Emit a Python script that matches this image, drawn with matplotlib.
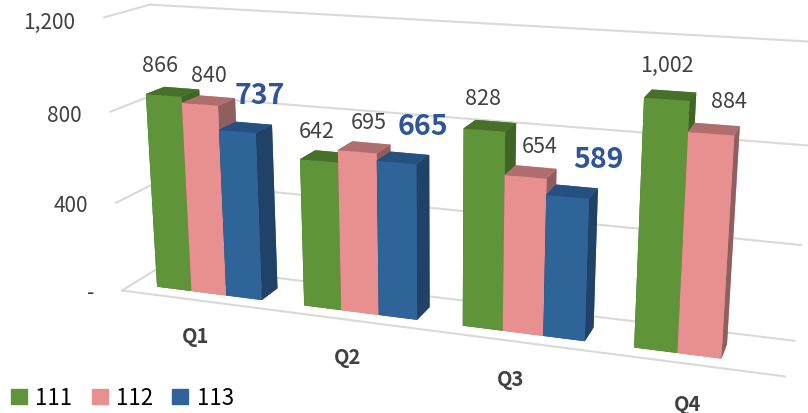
import numpy as np
import matplotlib
matplotlib.use('Agg')
import matplotlib.pyplot as plt
from matplotlib.patches import Patch

plt.rcParams['font.family'] = ['Noto Sans CJK TC', 'DejaVu Sans']

quarters = ['Q1', 'Q2', 'Q3', 'Q4']
years = ['111', '112', '113']
v111 = [866, 642, 828, 1002]
v112 = [840, 695, 654, 884]
v113 = [737, 665, 589]
yticks = [0, 400, 800, 1200]
ytick_labels = ['-', '400', '800', '1,200']

# faces: bottom, top, front, back, left, right
green = ['#47702b', '#47702b', '#5f9439', '#5f9439', '#3f6526', '#3f6526']
pink = ['#b06f6f', '#b06f6f', '#e89090', '#e89090', '#8f5f5f', '#8f5f5f']
blue = ['#265080', '#265080', '#2f6499', '#2f6499', '#1f4266', '#1f4266']
grid_c = '#d9d9d9'
text_c = '#404040'

W, H = 808, 414
side = 1200
cx, cy = 426, 193

fig = plt.figure(figsize=(W / 100, H / 100), dpi=100)
ax = fig.add_axes([(cx - side / 2) / W, (H - cy - side / 2) / H, side / W, side / H],
                  projection='3d', proj_type='persp', focal_length=0.216)
ax.set_box_aspect((5, 0.65, 2.12), zoom=0.618)
ax.view_init(elev=15.6, azim=-71)
ax.set_axis_off()
ax.set_xlim(0, 4)
ax.set_ylim(0, 1)
ax.set_zlim(0, 1200)
ax.set_xticks([])
ax.set_yticks([])
ax.set_zticks([])

# grid on floor, left wall and back wall
for t in yticks:
    ax.plot([0, 0], [0, 1], [t, t], color=grid_c, lw=1.5, zorder=1)
    ax.plot([0, 4], [1, 1], [t, t], color=grid_c, lw=1.5, zorder=1)
ax.plot([0, 4], [0, 0], [0, 0], color=grid_c, lw=1.5, zorder=1)

w = 0.24
gap = (1 - 3 * w) / 2 + 0.03
for i, (vals, c) in enumerate(zip([v111, v112, v113], [green, pink, blue])):
    for q, v in enumerate(vals):
        ax.bar3d(q + gap + i * w, 0.25, 0, w, 0.42, v, color=c, shade=False)
        big = i == 2
        ax.text(q + gap + (i + 0.5) * w + 0.085 * i, 0.2, v + (165 if big else 132), f'{v:,}',
                ha='center', va='center',
                fontsize=20.5 if big else 15.5, color='#2f5597' if big else text_c,
                fontweight='bold' if big else 'normal', zorder=100)

for t, lab in zip(yticks, ytick_labels):
    ax.text(-0.2, 0, t - 25, lab, ha='right', va='center', fontsize=15, color=text_c, zorder=100)

for q, lab in enumerate(quarters):
    ax.text(q + 0.5, 0, -163, lab, ha='center', va='center', fontsize=14.5,
            fontweight='bold', color=text_c, zorder=100)

handles = [Patch(color=c[2], label=y) for c, y in zip([green, pink, blue], years)]
fig.legend(handles=handles, loc='lower left', ncol=3, frameon=False, fontsize=16,
           bbox_to_anchor=(11 / W, 0.009), borderaxespad=0, borderpad=0,
           handlelength=0.72, handleheight=0.72,
           columnspacing=0.86, handletextpad=0.38)
fig.savefig('out.png', dpi=100)
